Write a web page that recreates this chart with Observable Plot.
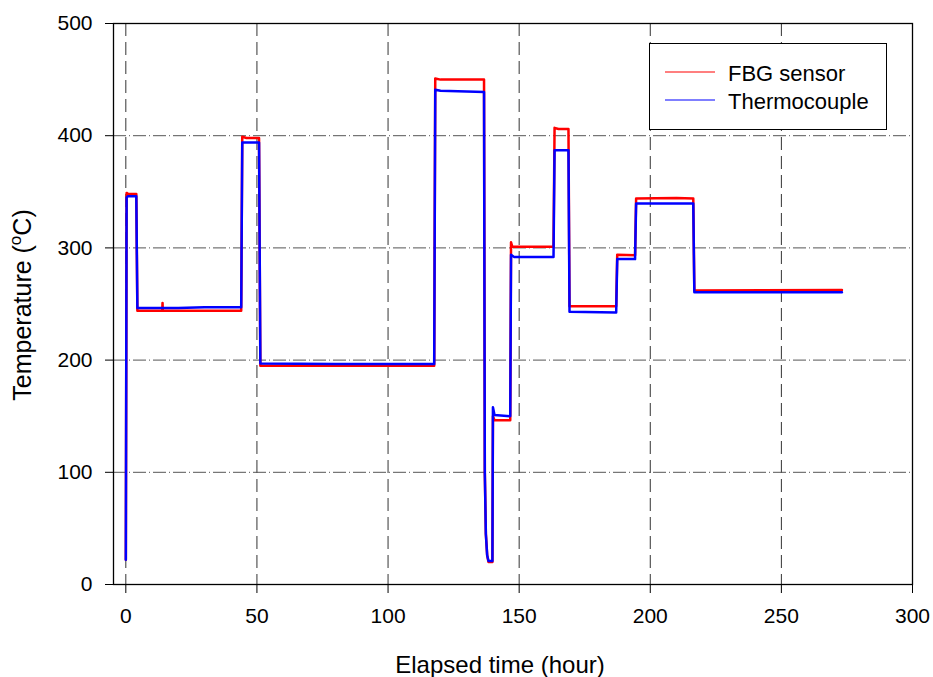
<!DOCTYPE html>
<html><head><meta charset="utf-8">
<script src="https://cdn.jsdelivr.net/npm/d3@7"></script>
<script src="https://cdn.jsdelivr.net/npm/@observablehq/plot@0.6"></script>
<style>body{margin:0;background:#fff;} #chart{width:933px;height:677px;}</style>
</head><body><div id="chart"></div>
<script>
// ---- data ----
const seriesNames = ["FBG sensor", "Thermocouple"];
const seriesColors = ["#ff0000", "#0000ff"];

const fbgHour = [0, 0.3, 1, 4.0, 4.4, 13.9, 14.0, 14.1, 44.0, 44.4, 46, 50.8, 51.3, 117.6, 118.0, 120, 136.6, 136.9, 137.3, 137.8, 138.3, 139.8, 140.0, 140.6, 146.6, 146.9, 147.4, 163.1, 163.5, 165, 168.8, 169.2, 187.0, 187.4, 194.2, 194.6, 210, 216.4, 216.8, 273.1];
const fbgTemp = [22, 349, 348, 348, 244, 244, 251, 244, 244, 399, 398, 398, 195, 195, 451, 450, 450, 100, 45, 26, 20, 20, 150, 146.5, 146.5, 305, 301, 301, 407, 406, 406, 248, 248, 294, 293.5, 344, 344.5, 344, 262, 262.5];

const tcHour = [0, 0.3, 0.8, 4.0, 4.4, 20, 30, 44.0, 44.4, 50.8, 51.3, 80, 117.6, 118.0, 120, 136.6, 136.9, 137.3, 137.8, 138.3, 139.8, 140.0, 140.6, 146.6, 146.9, 148, 163.1, 163.5, 168.8, 169.2, 187.0, 187.4, 194.2, 194.6, 216.4, 216.8, 273.1];
const tcTemp = [22, 345, 346, 346, 246.5, 246.5, 247, 247, 394, 394, 197, 196.5, 196.5, 441, 440, 439, 100, 45, 26, 21, 21, 158, 151, 150, 294, 292, 292, 387, 387, 243, 242.5, 290, 290, 339.5, 339.5, 260.5, 260.5];

const xTicks = [0, 50, 100, 150, 200, 250, 300];
const yTicks = [0, 100, 200, 300, 400, 500];
const xGrid = [0, 50, 100, 150, 200, 250];
const yGrid = [100, 200, 300, 400];

const xTitle = "Elapsed time (hour)";
const yTitleMain = "Temperature (";
const yTitleSup = "o";
const yTitleEnd = "C)";

// ---- build ----
const fbg = fbgHour.map((h, i) => ({hour: h, temp: fbgTemp[i]}));
const tc = tcHour.map((h, i) => ({hour: h, temp: tcTemp[i]}));

const font = "'Liberation Sans', Arial, sans-serif";

const plot = Plot.plot({
  width: 933,
  height: 677,
  marginLeft: 113,
  marginRight: 21,
  marginTop: 23,
  marginBottom: 93,
  x: {domain: [-4.7, 300]},
  y: {domain: [0, 500]},
  style: {fontFamily: font, fontSize: "21px", color: "black", background: "white"},
  marks: [
    Plot.ruleX(xGrid, {stroke: "#333", strokeWidth: 1, strokeDasharray: "13,6"}),
    Plot.ruleY(yGrid, {stroke: "#555", strokeWidth: 1, strokeDasharray: "13,3,1,3"}),
    Plot.line(fbg, {x: "hour", y: "temp", stroke: seriesColors[0], strokeWidth: 2.5}),
    Plot.line(tc, {x: "hour", y: "temp", stroke: seriesColors[1], strokeWidth: 2.5}),
    Plot.frame({stroke: "black", strokeWidth: 1.3}),
    Plot.axisX({ticks: xTicks, tickSize: 9, tickPadding: 15, label: null, fontSize: 21, tickFormat: d => String(d)}),
    Plot.axisY({ticks: yTicks, tickSize: 8, tickPadding: 13, label: null, fontSize: 21, tickFormat: d => String(d)})
  ]
});

document.getElementById("chart").appendChild(plot);
const svg = d3.select(plot);

// x title
svg.append("text")
  .attr("x", 500).attr("y", 673)
  .attr("text-anchor", "middle")
  .style("font-family", font).style("font-size", "24px").attr("fill", "black")
  .text(xTitle);

// y title with superscript
const yt = svg.append("text")
  .attr("transform", "translate(31,305) rotate(-90)")
  .attr("text-anchor", "middle")
  .style("font-family", font).style("font-size", "25px").attr("fill", "black");
yt.append("tspan").text(yTitleMain);
yt.append("tspan").attr("dy", -10).style("font-size", "17px").text(yTitleSup);
yt.append("tspan").attr("dy", 10).text(yTitleEnd);

// legend
const lg = svg.append("g");
lg.append("rect").attr("x", 649.5).attr("y", 43.5).attr("width", 237).attr("height", 86)
  .attr("fill", "white").attr("stroke", "black").attr("stroke-width", 1);
seriesNames.forEach((name, i) => {
  const yy = 72 + i * 28;
  lg.append("line").attr("x1", 665).attr("x2", 715).attr("y1", yy).attr("y2", yy)
    .attr("stroke", seriesColors[i]).attr("stroke-width", 1.2);
  lg.append("text").attr("x", 728).attr("y", yy + 8.5)
    .attr("text-anchor", "start")
    .style("font-family", font).style("font-size", "22px").attr("fill", "black")
    .text(name);
});
</script>
</body></html>
